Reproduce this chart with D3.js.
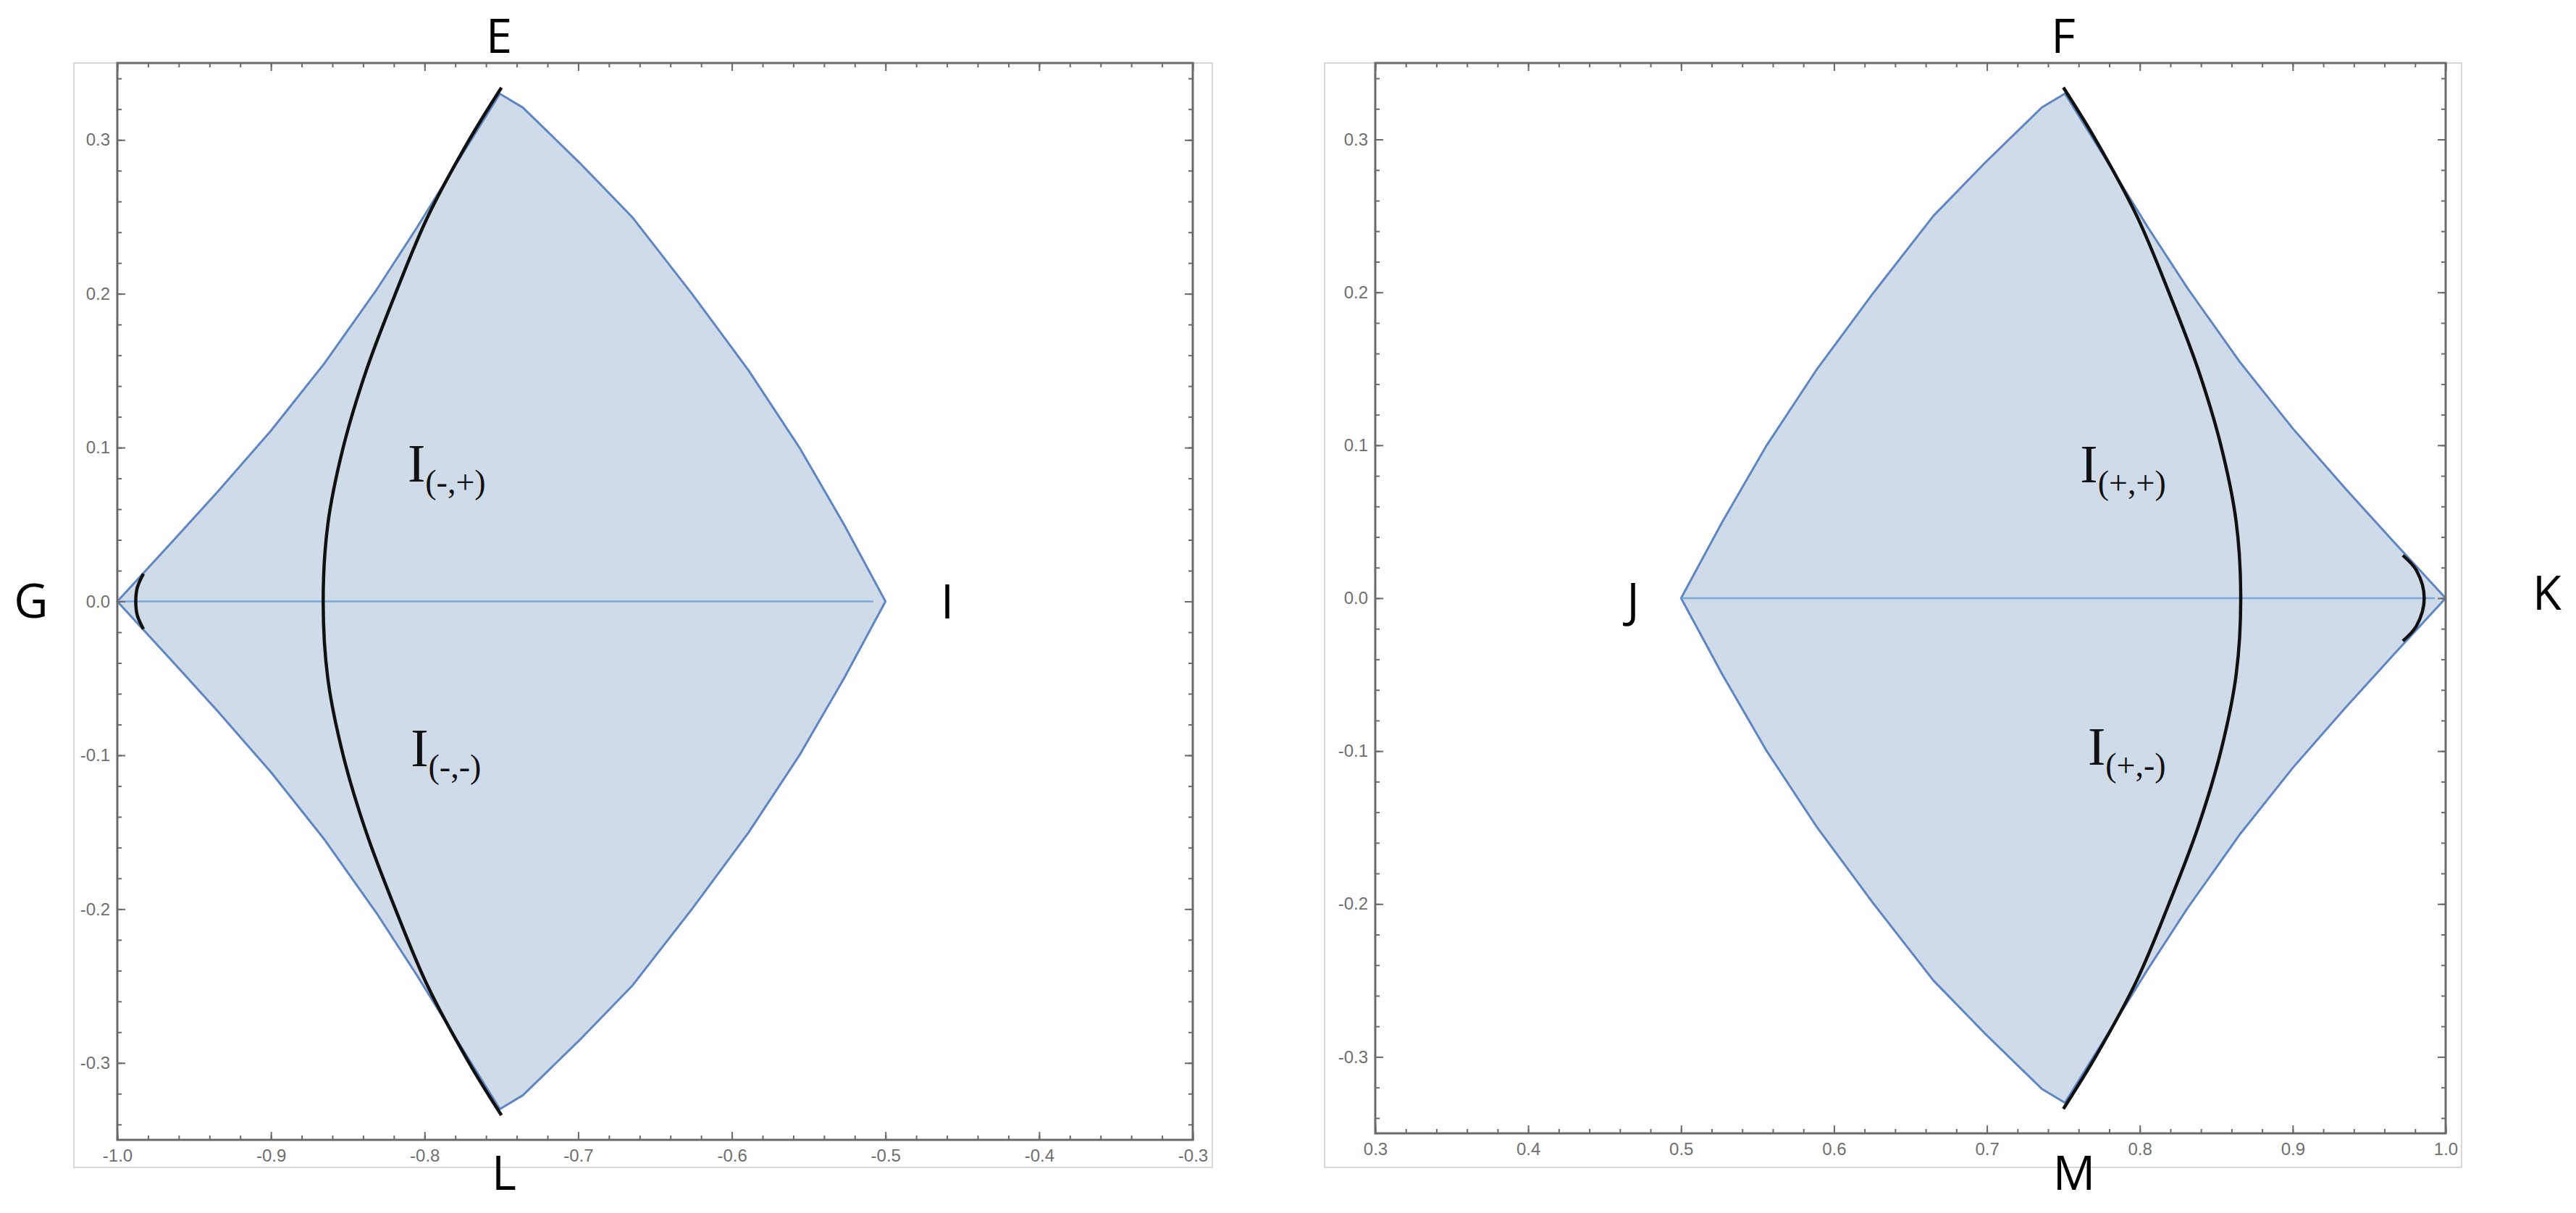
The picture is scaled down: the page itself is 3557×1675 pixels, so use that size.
<!DOCTYPE html>
<html>
<head>
<meta charset="utf-8">
<script src="https://cdn.jsdelivr.net/npm/d3@7"></script>
<style>
  body { margin: 0; background: #fff; }
  svg { display: block; }
</style>
</head>
<body>
<script>
// boundary of the shaded regions: [x, y]
const leftUpper = [[-1.000,0.000],[-0.965,0.038],[-0.935,0.071],[-0.900,0.111],[-0.865,0.155],[-0.831,0.203],[-0.805,0.243],[-0.779,0.285],[-0.751,0.330],[-0.736,0.321],[-0.699,0.285],[-0.665,0.250],[-0.626,0.200],[-0.589,0.150],[-0.556,0.100],[-0.527,0.050],[-0.500,0.000]];
const leftLower = [[-1.000,0.000],[-0.965,-0.038],[-0.935,-0.071],[-0.900,-0.111],[-0.865,-0.155],[-0.831,-0.203],[-0.805,-0.243],[-0.779,-0.285],[-0.751,-0.330],[-0.736,-0.321],[-0.699,-0.285],[-0.665,-0.250],[-0.626,-0.200],[-0.589,-0.150],[-0.556,-0.100],[-0.527,-0.050],[-0.500,0.000]];
const leftArc = [[-0.750,0.334],[-0.771,0.300],[-0.798,0.250],[-0.819,0.200],[-0.838,0.150],[-0.853,0.100],[-0.863,0.050],[-0.866,0.000],[-0.863,-0.050],[-0.853,-0.100],[-0.838,-0.150],[-0.819,-0.200],[-0.798,-0.250],[-0.771,-0.300],[-0.750,-0.334]];
const leftSmallArc = [[-0.983,0.018],[-0.987,0.009],[-0.988,0.000],[-0.987,-0.009],[-0.983,-0.018]];
const leftZeroLine = [[-1.000,0],[-0.508,0]];

const rightUpper = [[0.500,0.000],[0.527,0.050],[0.556,0.100],[0.589,0.150],[0.626,0.200],[0.665,0.250],[0.699,0.285],[0.736,0.321],[0.751,0.330],[0.779,0.285],[0.805,0.243],[0.831,0.203],[0.865,0.155],[0.900,0.111],[0.935,0.071],[0.965,0.038],[1.000,0.000]];
const rightLower = [[0.500,0.000],[0.527,-0.050],[0.556,-0.100],[0.589,-0.150],[0.626,-0.200],[0.665,-0.250],[0.699,-0.285],[0.736,-0.321],[0.751,-0.330],[0.779,-0.285],[0.805,-0.243],[0.831,-0.203],[0.865,-0.155],[0.900,-0.111],[0.935,-0.071],[0.965,-0.038],[1.000,0.000]];
const rightArc = [[0.750,0.334],[0.771,0.300],[0.798,0.250],[0.819,0.200],[0.838,0.150],[0.853,0.100],[0.863,0.050],[0.866,0.000],[0.863,-0.050],[0.853,-0.100],[0.838,-0.150],[0.819,-0.200],[0.798,-0.250],[0.771,-0.300],[0.750,-0.334]];
const rightSmallArc = [[0.972,0.028],[0.981,0.018],[0.986,0.000],[0.981,-0.018],[0.972,-0.028]];
const rightZeroLine = [[0.500,0],[0.993,0]];

// ticks
const leftXTicks = [-1.0,-0.9,-0.8,-0.7,-0.6,-0.5,-0.4,-0.3];
const leftXLabels = ["-1.0","-0.9","-0.8","-0.7","-0.6","-0.5","-0.4","-0.3"];
const rightXTicks = [0.3,0.4,0.5,0.6,0.7,0.8,0.9,1.0];
const rightXLabels = ["0.3","0.4","0.5","0.6","0.7","0.8","0.9","1.0"];
const yTicks = [-0.3,-0.2,-0.1,0.0,0.1,0.2,0.3];
const yLabels = ["-0.3","-0.2","-0.1","0.0","0.1","0.2","0.3"];

// point and region labels
const leftPoints = [["E","top"],["L","bottom"],["G","left"],["I","right"]];
const rightPoints = [["F","top"],["M","bottom"],["J","left"],["K","right"]];
const leftRegions = [["(-,+)",-0.811,0.078],["(-,-)",-0.809,-0.107]];
const rightRegions = [["(+,+)",0.761,0.076],["(+,-)",0.766,-0.109]];

const W = 3557, H = 1675;
const svg = d3.select("body").append("svg")
  .attr("width", W)
  .attr("height", H);

const panels = [
  { xDomain: [-1.0, -0.3], left: 162, right: 1647, top: 87, bottom: 1574,
    box: [102, 87, 1674, 1612],
    upper: leftUpper, lower: leftLower, arc: leftArc, small: leftSmallArc, zero: leftZeroLine,
    xTicks: leftXTicks, xLabels: leftXLabels, points: leftPoints, regions: leftRegions,
    pointPos: { top: [689, 73], bottom: [696, 1643], left: [43, 853], right: [1308, 854] } },
  { xDomain: [0.3, 1.0], left: 1899, right: 3377, top: 87, bottom: 1565,
    box: [1829, 87, 3399, 1612],
    upper: rightUpper, lower: rightLower, arc: rightArc, small: rightSmallArc, zero: rightZeroLine,
    xTicks: rightXTicks, xLabels: rightXLabels, points: rightPoints, regions: rightRegions,
    pointPos: { top: [2849, 73], bottom: [2864, 1643], left: [2255, 852], right: [3517, 842] } }
];

const minorRange = (a, b) => d3.range(Math.round(a * 50), Math.round(b * 50) + 1).map(k => k / 50);

panels.forEach(p => {
  const x = d3.scaleLinear().domain(p.xDomain).range([p.left, p.right]);
  const y = d3.scaleLinear().domain([-0.35, 0.35]).range([p.bottom, p.top]);
  const line = d3.line().x(d => x(d[0])).y(d => y(d[1]));
  const smooth = d3.line().curve(d3.curveCatmullRom).x(d => x(d[0])).y(d => y(d[1]));
  const g = svg.append("g");

  // light outer box
  g.append("rect")
    .attr("x", p.box[0]).attr("y", p.box[1])
    .attr("width", p.box[2] - p.box[0]).attr("height", p.box[3] - p.box[1])
    .attr("fill", "none").attr("stroke", "#cccccc").attr("stroke-width", 1.5);

  // shaded region
  const outline = p.upper.concat(p.lower.slice().reverse());
  g.append("path")
    .attr("d", line(outline) + "Z")
    .attr("fill", "#d0dbea")
    .attr("stroke", "#5d86c2")
    .attr("stroke-width", 3)
    .attr("stroke-linejoin", "round");

  // y = 0 line
  g.append("path")
    .attr("d", line(p.zero))
    .attr("fill", "none")
    .attr("stroke", "#7aa7dc")
    .attr("stroke-width", 2.5);

  // black curves
  [p.arc, p.small].forEach(c => {
    g.append("path")
      .attr("d", smooth(c))
      .attr("fill", "none")
      .attr("stroke", "#111")
      .attr("stroke-width", 4.5);
  });

  // axes, ticks pointing inward on all four sides
  const xMinor = minorRange(p.xDomain[0], p.xDomain[1]);
  const yMinor = minorRange(-0.34, 0.34);
  const styleAxis = sel => {
    sel.select(".domain").remove();
    sel.selectAll(".tick line").attr("stroke", "#6a6a6a").attr("stroke-width", 2);
    sel.selectAll(".tick text")
      .attr("fill", "#6f6f6f")
      .attr("font-family", "'Liberation Sans', Arial, sans-serif")
      .attr("font-size", 24);
  };

  g.append("g").attr("transform", `translate(0,${p.bottom})`)
    .call(d3.axisBottom(x).tickValues(xMinor).tickSize(-6).tickFormat(""))
    .call(styleAxis);
  g.append("g").attr("transform", `translate(0,${p.bottom})`)
    .call(d3.axisBottom(x).tickValues(p.xTicks).tickSize(-11).tickPadding(13)
      .tickFormat((d, i) => p.xLabels[i]))
    .call(styleAxis);
  g.append("g").attr("transform", `translate(0,${p.top})`)
    .call(d3.axisTop(x).tickValues(xMinor).tickSize(-6).tickFormat(""))
    .call(styleAxis);
  g.append("g").attr("transform", `translate(0,${p.top})`)
    .call(d3.axisTop(x).tickValues(p.xTicks).tickSize(-11).tickFormat(""))
    .call(styleAxis);

  g.append("g").attr("transform", `translate(${p.left},0)`)
    .call(d3.axisLeft(y).tickValues(yMinor).tickSize(-6).tickFormat(""))
    .call(styleAxis);
  g.append("g").attr("transform", `translate(${p.left},0)`)
    .call(d3.axisLeft(y).tickValues(yTicks).tickSize(-11).tickPadding(10)
      .tickFormat((d, i) => yLabels[i]))
    .call(styleAxis);
  g.append("g").attr("transform", `translate(${p.right},0)`)
    .call(d3.axisRight(y).tickValues(yMinor).tickSize(-6).tickFormat(""))
    .call(styleAxis);
  g.append("g").attr("transform", `translate(${p.right},0)`)
    .call(d3.axisRight(y).tickValues(yTicks).tickSize(-11).tickFormat(""))
    .call(styleAxis);

  // frame
  g.append("rect")
    .attr("x", p.left).attr("y", p.top)
    .attr("width", p.right - p.left).attr("height", p.bottom - p.top)
    .attr("fill", "none").attr("stroke", "#6a6a6a").attr("stroke-width", 3);

  // corner letters
  p.points.forEach(([name, side]) => {
    const pos = p.pointPos[side];
    g.append("text")
      .attr("x", pos[0]).attr("y", pos[1])
      .attr("text-anchor", "middle")
      .attr("font-family", "'Open Sans', 'Noto Sans', sans-serif")
      .attr("font-size", 65)
      .attr("fill", "#000")
      .text(name);
  });

  // region labels I with subscript
  p.regions.forEach(([sub, rx, ry]) => {
    const t = g.append("text")
      .attr("x", x(rx)).attr("y", y(ry))
      .attr("font-family", "'Liberation Serif', 'Times New Roman', serif")
      .attr("fill", "#111");
    t.append("tspan").attr("font-size", 73).text("I");
    t.append("tspan").attr("font-size", 46).attr("dy", 16).text(sub);
  });
});
</script>
</body>
</html>
